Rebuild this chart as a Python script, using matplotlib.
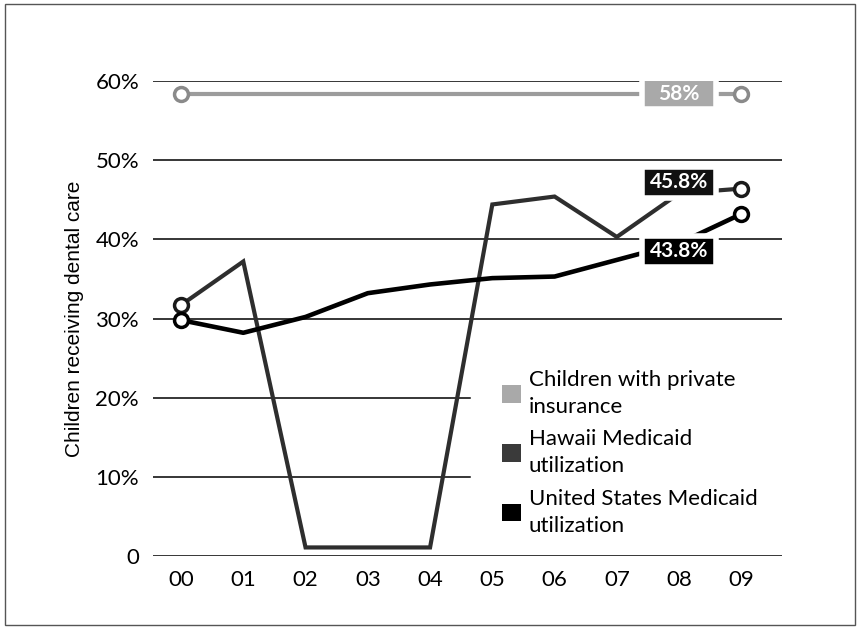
import matplotlib
matplotlib.use("Agg")
import matplotlib.pyplot as plt
from matplotlib.patches import Rectangle, Patch

# data
years = ["00", "01", "02", "03", "04", "05", "06", "07", "08", "09"]
private = [58.3, 58.3, 58.3, 58.3, 58.3, 58.3, 58.3, 58.3, 58.3, 58.3]
hawaii = [31.7, 37.2, 1.1, 1.1, 1.1, 44.4, 45.4, 40.3, 45.8, 46.4]
us = [29.8, 28.2, 30.2, 33.2, 34.3, 35.1, 35.3, 37.4, 39.5, 43.2]
yticks = [0, 10, 20, 30, 40, 50, 60]
ytick_labels = ["0", "10%", "20%", "30%", "40%", "50%", "60%"]
# value boxes: text, y position of the box, face colour
tags = [("58%", 58.4, "#a9a9a9"), ("45.8%", 47.2, "#111111"), ("43.8%", 38.5, "#000000")]
legend_labels = ["Children with private\ninsurance", "Hawaii Medicaid\nutilization",
                 "United States Medicaid\nutilization"]

plt.rcParams["font.family"] = ["Lato", "DejaVu Sans"]

fig = plt.figure(figsize=(8.62, 6.32), dpi=100)
ax = fig.add_axes([0.1775, 0.120, 0.7295, 0.752])

x = list(range(len(years)))

# grid lines (the 10% and 20% lines stop where the legend begins)
for v in yticks:
    right = 0.504 if v in (10, 20) else 1.0
    ax.axhline(v, xmin=0, xmax=right, color="black", lw=1.1, zorder=1)

ax.plot(x, private, color="#9c9c9c", lw=3, zorder=3, marker="o", markevery=[0, 9],
        markersize=10, markerfacecolor="white", markeredgecolor="#8a8a8a", markeredgewidth=2.5,
        clip_on=False)
ax.plot(x, hawaii, color="#2e2e2e", lw=3, zorder=4, marker="o", markevery=[0, 9],
        markersize=10, markerfacecolor="white", markeredgecolor="#1a1a1a", markeredgewidth=2.5,
        clip_on=False, solid_joinstyle="miter")
ax.plot(x, us, color="black", lw=3.3, zorder=4, marker="o", markevery=[0, 9],
        markersize=10, markerfacecolor="white", markeredgecolor="black", markeredgewidth=2.5,
        clip_on=False)

# value boxes sitting at 08
for txt, yv, fc in tags:
    ax.add_patch(Rectangle((8 - 0.6, yv - 1.95), 1.2, 3.9, facecolor=fc, edgecolor="white",
                           lw=4, zorder=6))
    ax.text(8, yv, txt, color="white", fontsize=15, fontweight="bold", ha="center",
            va="center", zorder=7)

ax.set_xlim(-0.45, 9.65)
ax.set_ylim(0, 60)
ax.set_xticks(x)
ax.set_xticklabels(years, fontsize=16)
ax.set_yticks(yticks)
ax.set_yticklabels(ytick_labels, fontsize=16)
ax.tick_params(length=0)
ax.tick_params(axis="x", pad=10)
ax.tick_params(axis="y", pad=10)
for s in ax.spines.values():
    s.set_visible(False)

ax.set_ylabel("Children receiving dental care", fontsize=15,
              family=["Liberation Sans", "DejaVu Sans"], labelpad=8)

handles = [Patch(facecolor="#a9a9a9"), Patch(facecolor="#3a3a3a"), Patch(facecolor="black")]
leg = ax.legend(handles, legend_labels, loc="upper left", bbox_to_anchor=(0.555, 0.392),
                frameon=False, fontsize=16, handlelength=0.85, handleheight=0.85,
                handletextpad=0.35, labelspacing=0.55, borderaxespad=0, borderpad=0)
for t in leg.get_texts():
    t.set_linespacing(1.45)

# thin frame around the whole picture
fig.add_artist(Rectangle((0.006, 0.011), 0.986, 0.983, transform=fig.transFigure,
                         fill=False, edgecolor="#555555", lw=1))

fig.savefig("out.png", dpi=100)
